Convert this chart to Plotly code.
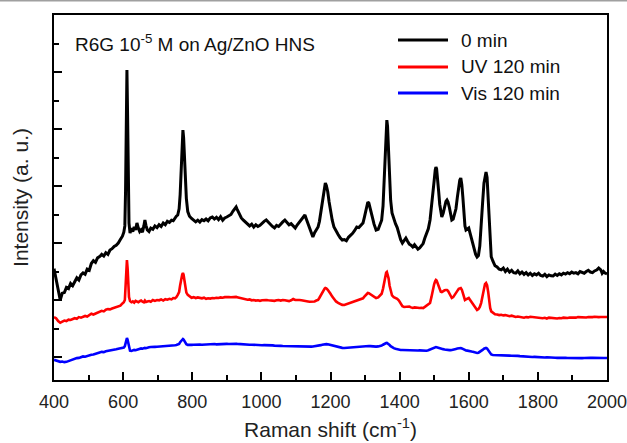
import plotly.graph_objects as go

# Raman spectra of R6G (10^-5 M) on Ag/ZnO hollow nanospheres, shared shift axis
series_names = ["0 min", "UV 120 min", "Vis 120 min"]
series_colors = ["#000000", "#ff0000", "#0000ff"]

raman_shift = [
    400, 406, 412, 418, 424, 430, 436, 442, 448, 454,
    460, 466, 472, 478, 484, 490, 496, 502, 508, 514,
    520, 526, 532, 538, 544, 550, 556, 562, 568, 574,
    580, 586, 592, 598, 602, 605, 607, 609, 611, 613,
    615, 617, 620, 624, 628, 632, 636, 640, 644, 648,
    652, 656, 660, 663, 666, 670, 675, 680, 686, 692,
    698, 704, 710, 716, 722, 728, 734, 740, 745, 750,
    754, 758, 762, 765, 768, 771, 773, 775, 777, 780,
    783, 787, 792, 798, 804, 810, 816, 822, 828, 834,
    840, 846, 852, 858, 864, 870, 876, 882, 888, 894,
    900, 906, 912, 918, 924, 927, 930, 936, 942, 948,
    954, 960, 966, 972, 978, 984, 990, 996, 1002, 1008,
    1014, 1020, 1026, 1032, 1038, 1044, 1050, 1056, 1062, 1068,
    1074, 1080, 1086, 1092, 1098, 1104, 1110, 1116, 1122, 1126,
    1130, 1135, 1140, 1145, 1149, 1154, 1159, 1164, 1168, 1172,
    1176, 1180, 1183, 1185, 1188, 1192, 1196, 1200, 1205, 1210,
    1216, 1222, 1228, 1234, 1240, 1246, 1252, 1258, 1264, 1270,
    1276, 1282, 1288, 1294, 1298, 1302, 1306, 1308, 1311, 1315,
    1320, 1326, 1332, 1338, 1343, 1348, 1352, 1355, 1358, 1361,
    1363, 1365, 1368, 1371, 1374, 1378, 1383, 1388, 1393, 1398,
    1403, 1408, 1413, 1418, 1423, 1428, 1433, 1438, 1443, 1448,
    1453, 1458, 1463, 1468, 1473, 1478, 1483, 1488, 1492, 1496,
    1500, 1503, 1505, 1507, 1510, 1513, 1516, 1519, 1522, 1526,
    1530, 1534, 1537, 1540, 1544, 1548, 1551, 1555, 1559, 1563,
    1567, 1571, 1574, 1577, 1580, 1583, 1586, 1589, 1592, 1596,
    1600, 1604, 1608, 1612, 1616, 1620, 1624, 1628, 1632, 1636,
    1640, 1644, 1647, 1650, 1653, 1656, 1659, 1662, 1665, 1670,
    1676, 1682, 1688, 1694, 1700, 1706, 1712, 1718, 1724, 1730,
    1736, 1742, 1748, 1754, 1760, 1766, 1772, 1778, 1784, 1790,
    1796, 1802, 1808, 1814, 1820, 1826, 1832, 1838, 1844, 1850,
    1856, 1862, 1868, 1874, 1880, 1886, 1892, 1898, 1904, 1910,
    1916, 1922, 1928, 1934, 1940, 1946, 1952, 1958, 1964, 1970,
    1976, 1982, 1986, 1990, 1994, 2000,
]

intensity_0min = [
    1550, 1380, 1150, 1000, 1120, 1130, 1220, 1200, 1290, 1250,
    1320, 1390, 1350, 1440, 1474, 1450, 1540, 1520, 1640, 1690,
    1660, 1740, 1760, 1800, 1770, 1830, 1800, 1877, 1900, 1940,
    1960, 2000, 2060, 2120, 2190, 2300, 2900, 4300, 5035, 4200,
    2800, 2350, 2175, 2260, 2200, 2280, 2230, 2351, 2260, 2200,
    2230, 2190, 2300, 2403, 2310, 2230, 2200, 2260, 2240, 2300,
    2270, 2320, 2290, 2350, 2320, 2380, 2360, 2400, 2390, 2440,
    2470, 2491, 2600, 2850, 3300, 3800, 3982, 3850, 3500, 3050,
    2780, 2550, 2470, 2430, 2400, 2370, 2400, 2368, 2410, 2390,
    2420, 2390, 2440, 2456, 2420, 2450, 2410, 2460, 2400, 2440,
    2456, 2480, 2500, 2560, 2610, 2631, 2590, 2500, 2440, 2400,
    2368, 2340, 2300, 2330, 2280, 2320, 2290, 2310, 2350, 2380,
    2403, 2360, 2330, 2290, 2263, 2310, 2290, 2340, 2370, 2403,
    2360, 2320, 2340, 2300, 2263, 2320, 2370, 2420, 2470, 2491,
    2420, 2330, 2250, 2160, 2105, 2180, 2240, 2280, 2380, 2550,
    2750, 2930, 3020, 3052, 3010, 2900, 2720, 2560, 2400, 2280,
    2200, 2150, 2090, 2052, 2060, 2040, 2100, 2130, 2170, 2220,
    2280, 2270, 2310, 2351, 2450, 2580, 2690, 2719, 2700, 2620,
    2480, 2330, 2228, 2240, 2310, 2400, 2650, 3100, 3600, 4050,
    4157, 4050, 3600, 3100, 2750, 2526, 2420, 2340, 2270, 2150,
    2060, 2000, 2040, 2087, 2030, 1980, 1960, 1929, 1970, 1930,
    1890, 1912, 1950, 1990, 2087, 2160, 2250, 2403, 2600, 2850,
    3100, 3280, 3333, 3300, 3150, 2900, 2680, 2520, 2456, 2520,
    2640, 2730, 2754, 2720, 2620, 2480, 2403, 2420, 2500, 2600,
    2800, 2980, 3100, 3140, 3020, 2800, 2500, 2300, 2228, 2250,
    2263, 2170, 2080, 1990, 1880, 1800, 1754, 1780, 1950, 2250,
    2700, 3050, 3200, 3245, 3150, 2800, 2300, 1950, 1760, 1680,
    1600, 1580, 1540, 1530, 1560, 1500, 1540, 1490, 1520, 1480,
    1473, 1510, 1460, 1490, 1450, 1480, 1440, 1470, 1430, 1460,
    1440, 1470, 1430, 1420, 1450, 1410, 1440, 1425, 1421, 1455,
    1430, 1460, 1440, 1470, 1455, 1480, 1460, 1490, 1470, 1480,
    1460, 1500, 1491, 1470, 1500, 1520, 1490, 1480, 1510, 1526,
    1560, 1530, 1470, 1500, 1473, 1460,
]

intensity_uv = [
    700, 680, 630, 600, 620, 640, 630, 655, 650, 665,
    680, 670, 700, 690, 702, 720, 710, 740, 760, 745,
    760, 780, 790, 810, 800, 830, 840, 835, 850, 860,
    880, 890, 900, 940, 960, 1000, 1250, 1600, 1701, 1550,
    1250, 1050, 980, 960, 975, 955, 985, 970, 960, 980,
    990, 970, 960, 990, 965, 975, 982, 970, 1000, 985,
    1000, 995, 1010, 990, 1015, 1005, 1020, 1010, 1035, 1030,
    1050, 1090, 1140, 1260, 1380, 1450, 1473, 1440, 1360, 1230,
    1130, 1090, 1060, 1040, 1050, 1035, 1045, 1035, 1030, 1040,
    1020, 1030, 1025, 1035, 1030, 1040, 1035, 1045, 1040, 1050,
    1045, 1050, 1048, 1052, 1060, 1055, 1050, 1040, 1035, 1025,
    1015, 1005, 1010, 995, 1000, 990, 995, 985, 995, 1000,
    1000, 995, 990, 995, 985, 995, 1000, 990, 1000, 995,
    985, 980, 995, 1017, 1000, 1005, 1000, 995, 985, 990,
    980, 975, 970, 968, 965, 975, 990, 1000, 1040, 1090,
    1140, 1180, 1200, 1210, 1205, 1180, 1150, 1110, 1060, 1010,
    975, 950, 930, 915, 912, 925, 940, 950, 960, 975,
    990, 1000, 1010, 1030, 1060, 1090, 1115, 1123, 1120, 1105,
    1080, 1050, 1035, 1045, 1070, 1110, 1200, 1320, 1430, 1480,
    1491, 1460, 1380, 1250, 1150, 1080, 1050, 1035, 1020, 990,
    940, 890, 877, 880, 875, 885, 870, 860, 870, 865,
    870, 860, 865, 859, 880, 900, 920, 947, 1050, 1180,
    1280, 1330, 1350, 1340, 1290, 1220, 1170, 1145, 1140, 1160,
    1170, 1175, 1175, 1160, 1120, 1080, 1035, 1050, 1080, 1120,
    1160, 1195, 1205, 1210, 1180, 1120, 1060, 1000, 1010, 1030,
    1035, 1000, 960, 920, 880, 845, 824, 840, 880, 950,
    1080, 1220, 1280, 1298, 1260, 1150, 980, 860, 800, 772,
    750, 745, 735, 740, 730, 735, 720, 715, 725, 710,
    702, 710, 700, 695, 690, 700, 695, 705, 700, 695,
    690, 685, 692, 680, 688, 675, 690, 685, 690, 680,
    676, 684, 680, 690, 684, 684, 692, 688, 695, 690,
    700, 695, 698, 690, 692, 700, 695, 700, 705, 698,
    700, 702, 698, 704, 702, 702,
]

intensity_vis = [
    -50, -60, -75, -85, -80, -90, -85, -70, -60, -45,
    -35, -20, -15, 0, 10, 5, 20, 30, 40, 45,
    60, 70, 80, 90, 85, 100, 105, 110, 120, 125,
    135, 145, 150, 158, 165, 190, 260, 320, 333, 300,
    230, 150, 110, 105, 115, 125, 120, 130, 135, 140,
    150, 145, 155, 160, 155, 165, 170, 175, 172, 178,
    180, 182, 185, 188, 186, 192, 195, 198, 200, 205,
    210, 215, 230, 260, 290, 310, 316, 305, 280, 250,
    225, 212, 208, 212, 215, 220, 214, 218, 216, 220,
    222, 225, 220, 224, 228, 222, 226, 230, 226, 228,
    230, 228, 232, 230, 235, 232, 230, 226, 224, 222,
    220, 218, 215, 216, 212, 214, 210, 208, 206, 208,
    210, 205, 208, 204, 200, 202, 198, 196, 194, 193,
    192, 190, 188, 186, 184, 180, 176, 178, 180, 182,
    180, 178, 180, 182, 185, 188, 190, 192, 200, 208,
    215, 222, 226, 228, 226, 222, 215, 210, 200, 190,
    180, 172, 165, 160, 158, 162, 166, 170, 174, 178,
    180, 182, 184, 186, 188, 190, 193, 193, 192, 190,
    185, 180, 182, 186, 190, 200, 215, 228, 238, 244,
    246, 240, 228, 210, 190, 170, 155, 145, 135, 128,
    123, 122, 120, 121, 119, 118, 115, 112, 113, 115,
    114, 116, 112, 108, 105, 110, 118, 130, 145, 160,
    168, 173, 175, 172, 165, 155, 148, 142, 140, 138,
    132, 126, 123, 122, 120, 120, 122, 128, 135, 142,
    148, 154, 157, 158, 150, 140, 130, 122, 115, 112,
    110, 104, 98, 90, 82, 75, 70, 76, 88, 105,
    125, 145, 155, 158, 150, 125, 90, 60, 45, 35,
    32, 30, 28, 30, 26, 22, 20, 24, 22, 25,
    25, 20, 16, 12, 10, 12, 8, 4, 0, 2,
    -2, -5, -3, -6, -8, -5, -10, -12, -10, -14,
    -15, -12, -16, -18, -15, -18, -20, -16, -18, -15,
    -15, -18, -20, -17, -20, -22, -16, -15, -18, -20,
    -20, -17, -20, -18, -18, -18,
]

x_ticks = [400, 600, 800, 1000, 1200, 1400, 1600, 1800, 2000]

FONT = "Liberation Sans, Arial, sans-serif"

# Plot area in pixels inside the 627x443 canvas
L, R, T, B = 54, 607, 15, 380
W, H = 627, 443


def px_x(px):
    return (px - L) / (R - L)


def px_y(py):
    return (B - py) / (B - T)


fig = go.Figure()
for ys, name, color, lw in [
    (intensity_0min, series_names[0], series_colors[0], 3.0),
    (intensity_uv, series_names[1], series_colors[1], 2.6),
    (intensity_vis, series_names[2], series_colors[2], 2.6),
]:
    fig.add_trace(go.Scatter(x=raman_shift, y=ys, name=name, mode="lines",
                             line=dict(color=color, width=lw), showlegend=False))

axis_common = dict(
    showline=True, linecolor="black", linewidth=2, mirror=True,
    showgrid=False, zeroline=False, ticks="inside", tickcolor="black",
    tickwidth=2, ticklen=8, automargin=False,
)

fig.update_xaxes(
    range=[400, 2000], tickvals=x_ticks, ticklabeloverflow="allow", ticklabelstandoff=4,
    tickfont=dict(family=FONT, size=18, color="#222"),
    title=dict(text="Raman shift (cm<sup>-1</sup>)", font=dict(family=FONT, size=21, color="#222"),
               standoff=12),
    minor=dict(ticks="inside", dtick=100, ticklen=5, tickwidth=2, tickcolor="black"),
    **axis_common,
)
fig.update_yaxes(
    range=[-403.5, 6000], dtick=1000, tick0=0, showticklabels=False,
    title=dict(text="Intensity (a. u.)", font=dict(family=FONT, size=21, color="#222"), standoff=18),
    minor=dict(ticks="inside", dtick=500, tick0=0, ticklen=5, tickwidth=2, tickcolor="black"),
    **axis_common,
)

annotations = [
    dict(text="R6G 10<sup>-5</sup> M on Ag/ZnO HNS", x=px_x(73), y=px_y(43), xref="paper", yref="paper",
         xanchor="left", yanchor="middle", showarrow=False, font=dict(family=FONT, size=19, color="#111")),
]
shapes = []
legend_rows = [40, 67, 93]
for name, color, row in zip(series_names, series_colors, legend_rows):
    shapes.append(dict(type="line", xref="paper", yref="paper", x0=px_x(398), x1=px_x(448),
                       y0=px_y(row), y1=px_y(row), line=dict(color=color, width=3)))
    annotations.append(dict(text=name, x=px_x(459), y=px_y(row), xref="paper", yref="paper",
                            xanchor="left", yanchor="middle", showarrow=False,
                            font=dict(family=FONT, size=19, color="#111")))

# thin grey rule along the top edge of the page
shapes.append(dict(type="line", xref="paper", yref="paper", x0=px_x(0), x1=px_x(W),
                   y0=px_y(0.8), y1=px_y(0.8), line=dict(color="#a0a0a0", width=1.6)))

fig.update_layout(
    width=W, height=H,
    margin=dict(l=L, r=W - R, t=T, b=H - B, pad=0, autoexpand=False),
    paper_bgcolor="white", plot_bgcolor="white",
    annotations=annotations, shapes=shapes,
)

fig.write_html("out.html")
